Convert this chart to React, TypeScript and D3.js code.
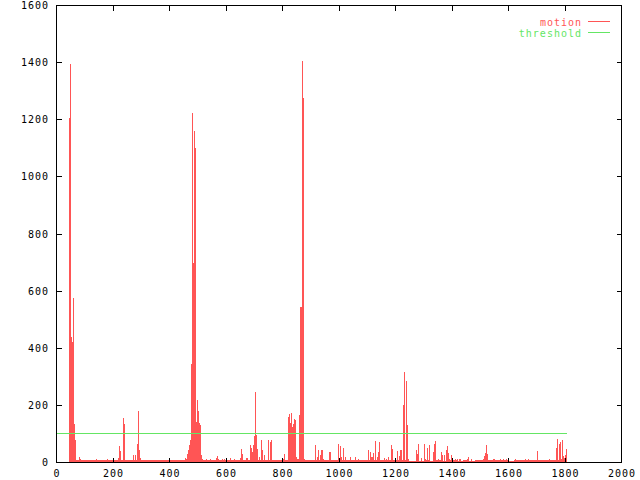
import React from "react";
import * as d3 from "d3";

const WIDTH = 640;
const HEIGHT = 480;
const RED = "#ff5555";
const GREEN = "#64e664";

const X_TICKS = [0, 200, 400, 600, 800, 1000, 1200, 1400, 1600, 1800, 2000];
const Y_TICKS = [0, 200, 400, 600, 800, 1000, 1200, 1400, 1600];

// low "noise" level of the motion series, one value per 20 frames
const BASE_STEP = 20;
const BASELINE = [
  1, 1, 1, 8, 9, 8, 9, 8, 9, 8, 8, 9, 8, 9, 10, 9, 8, 9, 8, 9,
  8, 9, 10, 12, 14, 12, 9, 8, 9, 8, 9, 8, 9, 10, 9, 10, 9, 8, 9, 9,
  10, 12, 12, 10, 8, 9, 8, 8, 9, 8, 9, 8, 8, 9, 8, 9, 8, 9, 8, 9,
  8, 10, 7, 5, 7, 8, 7, 8, 7, 8, 8, 7, 8, 7, 8, 8, 9, 8, 8, 8,
  7, 8, 8, 8, 8, 8, 8, 8, 9, 9, 9,
];

// motion spikes: [frame, value]
const SPIKES: [number, number][] = [
  [43.5, 1206], [47, 1394], [50.5, 440], [54, 422], [58, 575], [61, 134], [65, 78],
  [79, 19], [82, 14], [139, 13], [178, 12],
  [217, 17], [221, 58], [224, 41], [235, 155], [239, 134],
  [271, 25], [278, 27], [285, 66], [288, 180], [292, 45], [295, 17],
  [455, 17], [462, 31], [466, 45], [469, 63], [472.7, 80], [476, 344], [479.7, 1222],
  [483.3, 697], [486.8, 1160], [490.4, 1101], [494, 142], [497.5, 218], [501, 180],
  [504.6, 139], [508, 131], [511.7, 26], [515, 14],
  [528, 13], [545, 12], [564, 17], [567, 22], [571, 13], [585, 13], [592, 12], [614, 17],
  [630, 13], [650, 17], [654, 47], [658, 29], [672, 17], [675, 17],
  [686, 60], [690, 52], [693, 36], [697, 60], [700, 94], [704, 246], [707, 96], [711, 48],
  [718, 20], [725, 80], [729, 43], [736, 25], [750, 78], [757, 72], [760, 78],
  [800, 13], [804, 20], [807, 29],
  [820, 160], [824, 169], [827, 137], [831, 172], [835, 123], [838, 134], [842, 154],
  [845, 150], [849, 20], [852, 14], [855, 13], [859, 166], [863, 545], [866, 545],
  [870, 1405], [873.5, 1277], [877, 14],
  [916, 61], [923, 20], [927, 43], [934, 25], [938, 43], [942, 13],
  [963, 36], [967, 38], [995, 55], [998, 64], [1002, 57], [1006, 20], [1013, 52], [1020, 20],
  [1040, 20], [1058, 20], [1067, 14],
  [1104, 45], [1108, 38], [1115, 20], [1122, 34], [1129, 76], [1136, 20], [1139, 38],
  [1143, 71], [1161, 17], [1168, 14], [1172, 20],
  [1183, 61], [1187, 48], [1205, 41], [1213, 22], [1217, 43], [1220, 43], [1225, 200],
  [1229, 316], [1237, 285], [1240, 131], [1245, 13],
  [1274, 43], [1277, 31], [1281, 64], [1290, 17], [1302, 64], [1306, 13], [1310, 52],
  [1317, 61], [1320, 22], [1331, 36], [1335, 64], [1339, 75], [1350, 13], [1362, 37],
  [1366, 26], [1370, 26], [1377, 43], [1382, 57], [1385, 32], [1388, 14], [1395, 25],
  [1398, 17], [1411, 13], [1418, 13], [1424, 13], [1430, 13], [1453, 13], [1455, 20],
  [1458, 17], [1466, 13],
  [1508, 14], [1512, 22], [1516, 34], [1519, 61], [1523, 29], [1544, 13], [1550, 13],
  [1570, 13], [1580, 13], [1590, 13], [1623, 13], [1660, 13], [1670, 13], [1700, 41],
  [1743, 13], [1768, 51], [1771, 83], [1777, 64], [1781, 71], [1785, 14], [1789, 78],
  [1792, 22], [1796, 17], [1799, 25], [1803, 48],
];

const THRESHOLD = 100;
const DATA_END = 1806;
const SPIKE_W = 3.6;

const FONT = "'DejaVu Sans Mono', monospace";

export default function App() {
  const x = d3.scaleLinear().domain([0, 2000]).range([56.5, 621.5]);
  const y = d3.scaleLinear().domain([0, 1600]).range([462.5, 5.5]);
  const bottom = 462;
  const left = x(0);
  const right = x(2000);
  const top = y(1600);
  const thrY = Math.floor(y(THRESHOLD)) + 0.5;

  return (
    <svg
      width={WIDTH}
      height={HEIGHT}
      style={{ position: "absolute", left: 0, top: 0, background: "#fff" }}
      fontFamily={FONT}
      fontSize={10}
    >
      <rect width={WIDTH} height={HEIGHT} fill="#fff" />
      <g fill={RED} shapeRendering="crispEdges">
        {BASELINE.map((v, i) => {
          const x0 = i * BASE_STEP;
          const x1 = Math.min(x0 + BASE_STEP, DATA_END);
          return (
            <rect key={"b" + i} x={x(x0)} width={x(x1) - x(x0)} y={y(v)} height={bottom - y(v)} />
          );
        })}
        {SPIKES.map(([f, v], i) => (
          <rect key={"s" + i} x={x(f)} width={x(f + SPIKE_W) - x(f)} y={y(v)} height={bottom - y(v)} />
        ))}
      </g>
      <line x1={x(0)} x2={x(DATA_END)} y1={thrY} y2={thrY} stroke={GREEN} shapeRendering="crispEdges" />

      <g stroke="#000" shapeRendering="crispEdges">
        <rect x={left} y={top} width={right - left} height={y(0) - top} fill="none" />
        {X_TICKS.map((t) => (
          <g key={"xt" + t}>
            <line x1={x(t)} x2={x(t)} y1={y(0)} y2={y(0) - 5} />
            <line x1={x(t)} x2={x(t)} y1={top} y2={top + 5} />
          </g>
        ))}
        {Y_TICKS.map((t) => (
          <g key={"yt" + t}>
            <line x1={left} x2={left + 5} y1={y(t)} y2={y(t)} />
            <line x1={right} x2={right - 5} y1={y(t)} y2={y(t)} />
          </g>
        ))}
      </g>

      <g fill="#000" letterSpacing={1}>
        {X_TICKS.map((t) => (
          <text key={"xl" + t} x={x(t) + 0.5} y={477} textAnchor="middle">
            {t}
          </text>
        ))}
        {Y_TICKS.map((t) => (
          <text key={"yl" + t} x={49} y={y(t) + 3.5} textAnchor="end">
            {t}
          </text>
        ))}
      </g>

      <g letterSpacing={1}>
        <text x={582} y={26} textAnchor="end" fill={RED}>motion</text>
        <line x1={588} x2={610} y1={21.5} y2={21.5} stroke={RED} shapeRendering="crispEdges" />
        <text x={582} y={37} textAnchor="end" fill={GREEN}>threshold</text>
        <line x1={588} x2={610} y1={32.5} y2={32.5} stroke={GREEN} shapeRendering="crispEdges" />
      </g>
    </svg>
  );
}
